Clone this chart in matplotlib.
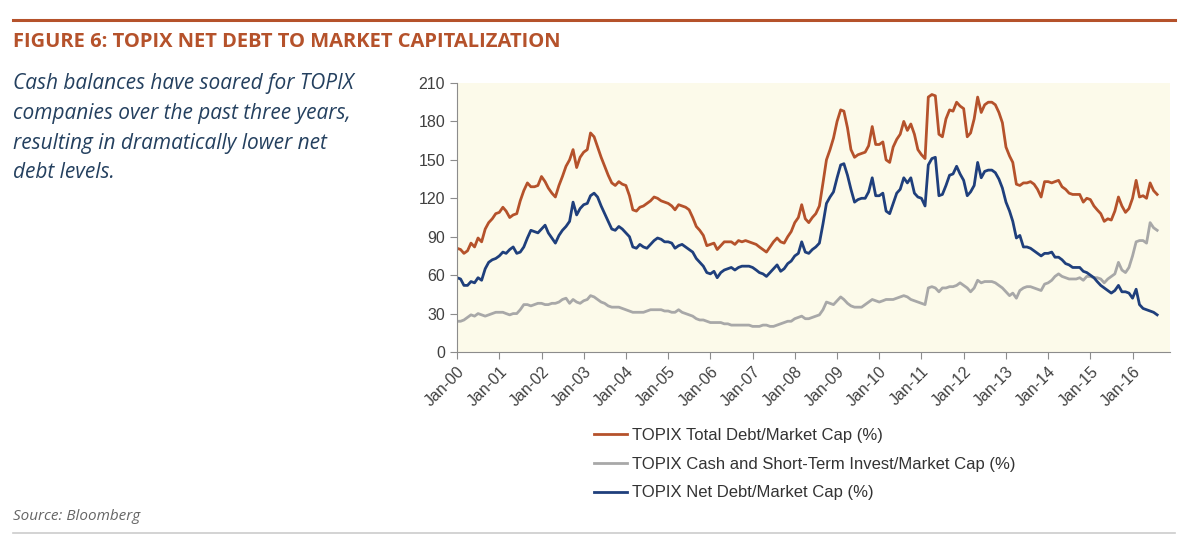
import numpy as np
import pandas as pd
import matplotlib
matplotlib.use("Agg")
import matplotlib.pyplot as plt
import matplotlib.dates as mdates
from matplotlib.lines import Line2D

# monthly readings, Jan-2000 .. Aug-2016 (values in %)
total_debt = (
    [81, 80, 77, 79, 85, 82, 89, 86, 96, 101, 104, 108]          # 2000
    + [109, 113, 110, 105, 107, 108, 118, 126, 132, 129, 129, 130]  # 2001
    + [137, 133, 128, 124, 121, 130, 137, 145, 150, 158, 144, 152]  # 2002
    + [156, 158, 171, 168, 160, 152, 145, 138, 132, 130, 133, 131]  # 2003
    + [130, 122, 111, 110, 113, 114, 116, 118, 121, 120, 118, 117]  # 2004
    + [116, 114, 111, 115, 114, 113, 111, 105, 98, 95, 91, 83]      # 2005
    + [84, 85, 80, 83, 86, 86, 86, 84, 87, 86, 87, 86]              # 2006
    + [85, 84, 82, 80, 78, 82, 86, 89, 86, 85, 90, 94]              # 2007
    + [101, 105, 115, 104, 101, 105, 108, 114, 132, 150, 158, 167]  # 2008
    + [180, 189, 188, 175, 158, 152, 154, 155, 156, 161, 176, 162]  # 2009
    + [162, 164, 150, 148, 160, 166, 170, 180, 173, 178, 170, 158]  # 2010
    + [154, 151, 199, 201, 200, 170, 168, 182, 189, 188, 195, 192]  # 2011
    + [190, 168, 171, 182, 199, 187, 193, 195, 195, 193, 187, 179]  # 2012
    + [160, 153, 148, 131, 130, 132, 132, 133, 131, 127, 121, 133]  # 2013
    + [133, 132, 133, 134, 129, 127, 124, 123, 123, 123, 117, 120]  # 2014
    + [119, 114, 111, 108, 102, 104, 103, 110, 121, 114, 109, 112]  # 2015
    + [120, 134, 121, 122, 120, 132, 126, 123]                      # 2016
)
cash = (
    [24, 24, 25, 27, 29, 28, 30, 29, 28, 29, 30, 31]
    + [31, 31, 30, 29, 30, 30, 33, 37, 37, 36, 37, 38]
    + [38, 37, 37, 38, 38, 39, 41, 42, 38, 41, 39, 38]
    + [40, 41, 44, 43, 41, 39, 38, 36, 35, 35, 35, 34]
    + [33, 32, 31, 31, 31, 31, 32, 33, 33, 33, 33, 32]
    + [32, 31, 31, 33, 31, 30, 29, 28, 26, 25, 25, 24]
    + [23, 23, 23, 23, 22, 22, 21, 21, 21, 21, 21, 21]
    + [20, 20, 20, 21, 21, 20, 20, 21, 22, 23, 24, 24]
    + [26, 27, 28, 26, 26, 27, 28, 29, 33, 39, 38, 37]
    + [40, 43, 41, 38, 36, 35, 35, 35, 37, 39, 41, 40]
    + [39, 40, 41, 41, 41, 42, 43, 44, 43, 41, 40, 39]
    + [38, 37, 50, 51, 50, 47, 50, 50, 51, 51, 52, 54]
    + [52, 50, 47, 50, 56, 54, 55, 55, 55, 54, 52, 50]
    + [47, 44, 46, 42, 48, 50, 51, 51, 50, 49, 48, 53]
    + [54, 56, 59, 61, 59, 58, 57, 57, 57, 58, 56, 59]
    + [59, 58, 58, 57, 54, 57, 59, 61, 70, 64, 62, 66]
    + [75, 86, 87, 87, 85, 101, 97, 95]
)
net_debt = (
    [58, 57, 52, 52, 55, 54, 58, 56, 65, 70, 72, 73]
    + [75, 78, 77, 80, 82, 77, 78, 82, 89, 95, 94, 93]
    + [96, 99, 93, 89, 85, 91, 95, 98, 102, 117, 107, 112]
    + [115, 116, 122, 124, 121, 114, 108, 102, 96, 95, 98, 96]
    + [93, 90, 82, 81, 84, 82, 81, 84, 87, 89, 88, 86]
    + [86, 85, 81, 83, 84, 82, 80, 78, 73, 70, 67, 62]
    + [61, 63, 58, 62, 64, 65, 66, 64, 66, 67, 67, 67]
    + [66, 64, 62, 61, 59, 62, 65, 68, 63, 65, 69, 71]
    + [75, 77, 86, 78, 77, 80, 82, 85, 100, 116, 121, 125]
    + [136, 146, 147, 138, 127, 117, 119, 120, 120, 125, 136, 122]
    + [122, 124, 110, 108, 116, 124, 127, 136, 132, 136, 124, 121]
    + [120, 114, 146, 151, 152, 122, 123, 130, 138, 139, 145, 139]
    + [134, 122, 125, 130, 148, 136, 141, 142, 142, 140, 135, 128]
    + [117, 110, 102, 89, 91, 82, 82, 81, 79, 77, 75, 77]
    + [77, 78, 74, 74, 72, 69, 68, 66, 66, 66, 63, 62]
    + [60, 58, 55, 52, 50, 48, 46, 48, 52, 47, 47, 46]
    + [42, 49, 37, 34, 33, 32, 31, 29]
)
dates = pd.date_range("2000-01-01", periods=len(total_debt), freq="MS")

labels = ["TOPIX Total Debt/Market Cap (%)",
          "TOPIX Cash and Short-Term Invest/Market Cap (%)",
          "TOPIX Net Debt/Market Cap (%)"]
colors = ["#b5522b", "#a8a8a8", "#1f3f7c"]

fig = plt.figure(figsize=(12, 5.54), dpi=100)
fig.patch.set_facecolor("white")

# header rule + title
fig.add_artist(Line2D([13 / 1200, 1175 / 1200], [1 - 20 / 554] * 2, color="#b5522b", lw=2.2))
fig.text(13 / 1200, 1 - 42 / 554, "FIGURE 6: TOPIX NET DEBT TO MARKET CAPITALIZATION",
         family="Open Sans", weight="bold", fontsize=14.5, color="#b5522b", va="center")

fig.text(13 / 1200, 1 - 73 / 554,
         "Cash balances have soared for TOPIX\ncompanies over the past three years,\n"
         "resulting in dramatically lower net\ndebt levels.",
         family="Open Sans", style="italic", fontsize=15, color="#24405f",
         va="top", linespacing=1.55)

fig.text(13 / 1200, 1 - 517 / 554, "Source: Bloomberg", family="Open Sans", style="italic",
         fontsize=11, color="#666666", va="center")
fig.add_artist(Line2D([13 / 1200, 1175 / 1200], [1 - 533 / 554] * 2, color="#cccccc", lw=1.2))

ax = fig.add_axes([457 / 1200, 1 - 352 / 554, (1170 - 457) / 1200, (352 - 83) / 554])
ax.set_facecolor("#fcfaea")
for series, c, lab in zip([total_debt, cash, net_debt], colors, labels):
    ax.plot(dates, series, color=c, lw=2.0, label=lab)

ax.set_ylim(0, 210)
ax.set_yticks(range(0, 211, 30))
ax.set_xlim(pd.Timestamp("2000-01-01"), pd.Timestamp("2016-11-20"))
ax.xaxis.set_major_locator(mdates.YearLocator())
ax.xaxis.set_major_formatter(mdates.DateFormatter("%b-%y"))
for s in ["top", "right"]:
    ax.spines[s].set_visible(False)
for s in ["left", "bottom"]:
    ax.spines[s].set_color("#8c8c8c")
ax.tick_params(direction="out", length=5, color="#8c8c8c", labelcolor="#404040", labelsize=11.5)
for lab in ax.get_xticklabels():
    lab.set_family("Liberation Sans")
    lab.set_rotation(45)
    lab.set_ha("right")
    lab.set_rotation_mode("anchor")
for lab in ax.get_yticklabels():
    lab.set_family("Liberation Sans")

fig.legend(loc="upper left", bbox_to_anchor=(594 / 1200, 1 - 428 / 554), frameon=False,
           prop={"family": "Liberation Sans", "size": 12}, labelcolor="#333333",
           handlelength=2.0, handletextpad=0.3, labelspacing=0.82, borderpad=0, borderaxespad=0)

fig.savefig("out.png", dpi=100)
